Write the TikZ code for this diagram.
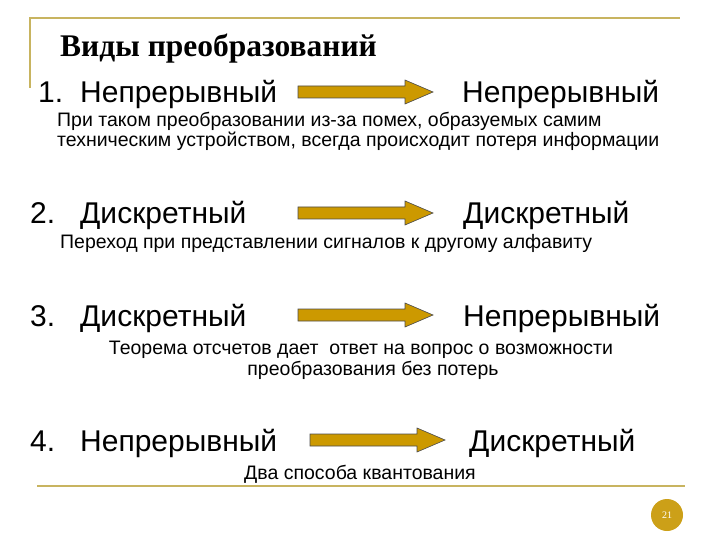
\documentclass[tikz,border=0pt]{standalone}
\usepackage{fontspec}
\setmainfont{Liberation Sans}
\newfontfamily\titlefont{Liberation Serif}
\usepackage{tikz}
\usetikzlibrary{positioning, calc}
\usepackage{xcolor}
\definecolor{framegold}{RGB}{200,180,96}
\definecolor{arrowgold}{RGB}{204,153,0}
\definecolor{pagegold}{RGB}{204,160,24}

\begin{document}
\begin{tikzpicture}[
        x=1pt, y=-1pt,
        item/.style={anchor=base west, inner sep=0pt, font=\fontsize{30}{33}\selectfont},
        note/.style={anchor=base west, inner sep=0pt, font=\fontsize{19.5}{22}\selectfont},
        frameline/.style={draw=framegold, line width=2pt},
        fatarrow/.pic={
          \filldraw[fill=arrowgold, draw=black!70, line width=0.6pt]
            (0,-6) -- (107,-6) -- (107,-12) -- (135,0) -- (107,12)
            -- (107,6) -- (0,6) -- cycle;
        }
      ]
      \useasboundingbox (0,0) rectangle (720,540);

      % frame
      \coordinate (ftl) at (30,18);
      \coordinate (ftr) at (680,18);
      \coordinate (fbl) at (30,88);
      \draw[frameline] (fbl) -- (ftl) -- (ftr);
      \coordinate (bl) at (37,486);
      \coordinate (br) at (685,486);
      \draw[frameline] (bl) -- (br);

      \node[anchor=base west, inner sep=0pt, font=\titlefont\bfseries\fontsize{31.5}{34}\selectfont] (title) at (60,57) {Виды преобразований};

      % rows
      \node[item] (l1) at (38,103)  {\makebox[42pt][l]{1.}Непрерывный};
      \node[item] (r1) at (462,103) {Непрерывный};
      \node[item] (l2) at (30,224)  {\makebox[50pt][l]{2.}Дискретный};
      \node[item] (r2) at (463,224) {Дискретный};
      \node[item] (l3) at (30,326)  {\makebox[50pt][l]{3.}Дискретный};
      \node[item] (r3) at (463,326) {Непрерывный};
      \node[item] (l4) at (30,451)  {\makebox[50pt][l]{4.}Непрерывный};
      \node[item] (r4) at (469,451) {Дискретный};

      \pic at (298,92)  {fatarrow};
      \pic at (298,213) {fatarrow};
      \pic at (298,315) {fatarrow};
      \pic at (310,440) {fatarrow};

      % notes
      \node[note] (n1a) at (57,127) {При таком преобразовании из-за помех, образуемых самим};
      \node[note] (n1b) at (57,147) {техническим устройством, всегда происходит потеря информации};
      \node[note] (n2) at (60,248) {Переход при представлении сигналов к другому алфавиту};
      \node[note, anchor=base] (n3a) at (361,354) {Теорема отсчетов дает\ \ ответ на вопрос о возможности};
      \node[note, anchor=base] (n3b) at (373,375) {преобразования без потерь};
      \node[note, anchor=base] (n4) at (360,479) {Два способа квантования};

      % page number
      \node[circle, fill=pagegold, minimum size=32pt, inner sep=0pt,
            text=white, font=\titlefont\fontsize{10}{12}\selectfont] (page) at (667,515) {21};
    \end{tikzpicture}
\end{document}
